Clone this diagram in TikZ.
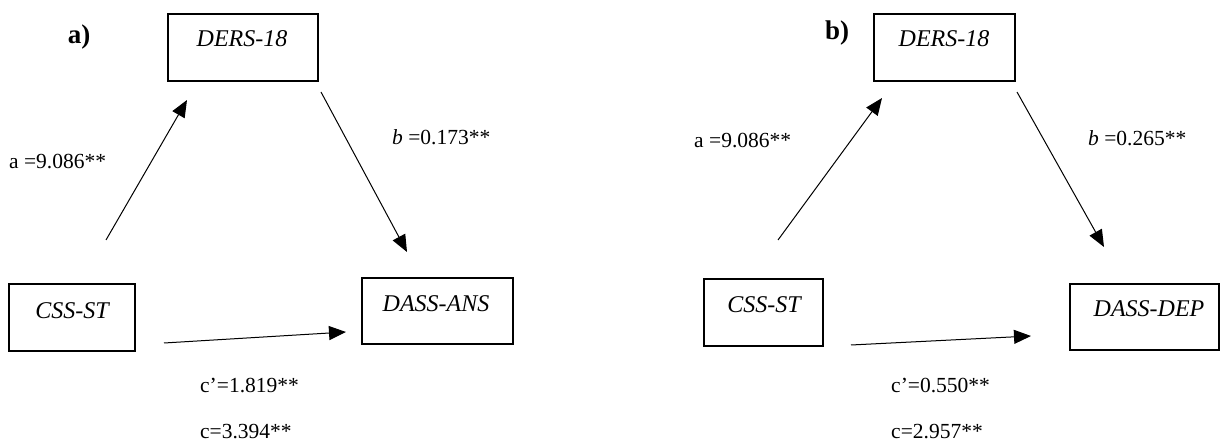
\documentclass[tikz,border=0pt]{standalone}
\usepackage{fontspec}
\setmainfont{Liberation Serif}
\usetikzlibrary{arrows.meta}
\begin{document}
\begin{tikzpicture}[x=1pt,y=-1pt,
  varbox/.style={draw, line width=2pt, inner sep=0pt},
  boxtext/.style={inner sep=0pt, font=\fontsize{24}{28}\selectfont\itshape},
  coef/.style={inner sep=0pt, anchor=west, font=\fontsize{21.5}{25}\selectfont},
  panel/.style={inner sep=0pt, font=\fontsize{27}{31}\selectfont\bfseries},
  effect/.style={line width=1pt, -{Triangle[length=17pt,width=14pt]}}
]
\useasboundingbox (0,0) rectangle (1221,443);

% ---------- panel a ----------
\node[panel] (pa) at (79,37) {a)};
\node[varbox, minimum width=150pt, minimum height=67pt] (dersA) at (243,47.5) {};
\node[boxtext] (dersAt) at (242,39) {DERS-18};
\node[varbox, minimum width=126pt, minimum height=67pt] (cssA) at (72,317.5) {};
\node[boxtext] (cssAt) at (72,311) {CSS-ST};
\node[varbox, minimum width=151pt, minimum height=66pt] (dassA) at (437.5,311) {};
\node[boxtext] (dassAt) at (436,303.5) {DASS-ANS};

\coordinate (aA0) at (106,240);  \coordinate (aA1) at (187,100);
\coordinate (bA0) at (321,92);   \coordinate (bA1) at (407,252);
\coordinate (cA0) at (164,343);  \coordinate (cA1) at (346,332);
\draw[effect] (aA0) -- (aA1);
\draw[effect] (bA0) -- (bA1);
\draw[effect] (cA0) -- (cA1);

\node[coef] (laA) at (9,162) {a =9.086**};
\node[coef] (lbA) at (392,137) {\textit{b} =0.173**};
\node[coef] (lcpA) at (200,386) {c’=1.819**};
\node[coef] (lcA) at (200,432) {c=3.394**};

% ---------- panel b ----------
\node[panel] (pb) at (837,33) {b)};
\node[varbox, minimum width=141pt, minimum height=67pt] (dersB) at (944.5,47.5) {};
\node[boxtext] (dersBt) at (944,39) {DERS-18};
\node[varbox, minimum width=119pt, minimum height=67pt] (cssB) at (763.5,312.5) {};
\node[boxtext] (cssBt) at (764,305) {CSS-ST};
\node[varbox, minimum width=149pt, minimum height=66pt] (dassB) at (1144.5,317) {};
\node[boxtext] (dassBt) at (1149,309) {DASS-DEP};

\coordinate (aB0) at (778,240);  \coordinate (aB1) at (882,98);
\coordinate (bB0) at (1017,92);  \coordinate (bB1) at (1104,247);
\coordinate (cB0) at (851,345);  \coordinate (cB1) at (1031,336);
\draw[effect] (aB0) -- (aB1);
\draw[effect] (bB0) -- (bB1);
\draw[effect] (cB0) -- (cB1);

\node[coef] (laB) at (694,141) {a =9.086**};
\node[coef] (lbB) at (1088,138) {\textit{b} =0.265**};
\node[coef] (lcpB) at (891,386) {c’=0.550**};
\node[coef] (lcB) at (891,432) {c=2.957**};
\end{tikzpicture}
\end{document}
